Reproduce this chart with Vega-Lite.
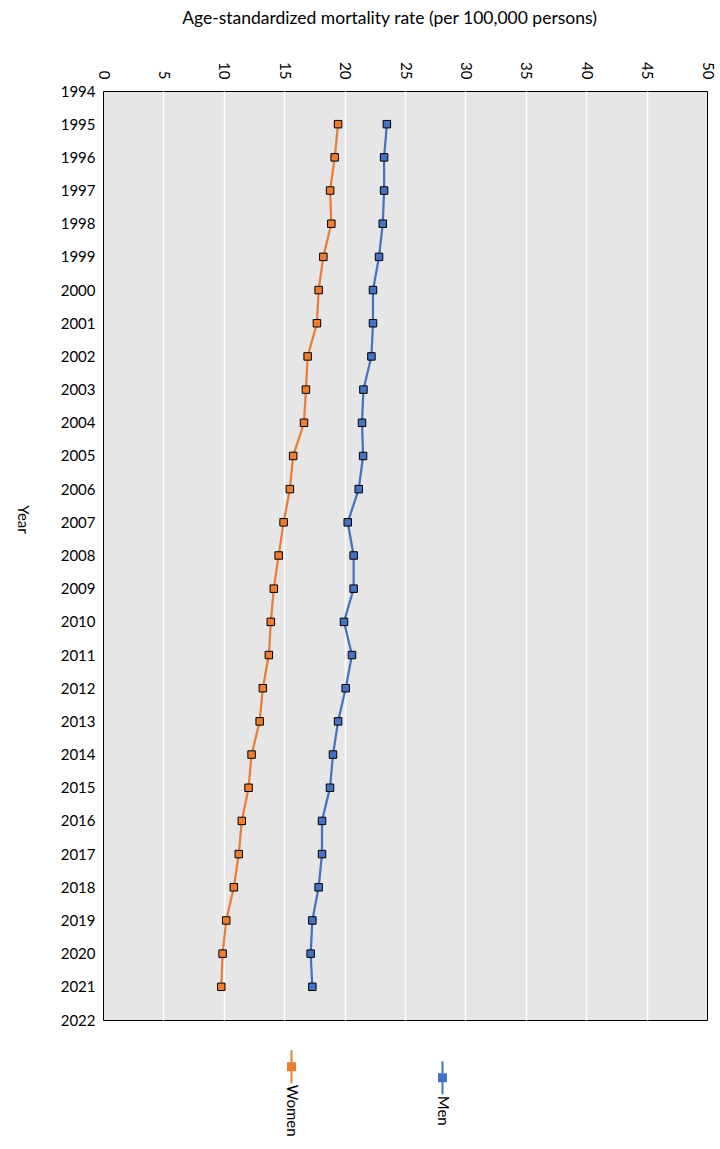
{
  "$schema": "https://vega.github.io/schema/vega-lite/v6.json",
  "width": 604,
  "height": 929,
  "autosize": "none",
  "padding": {"left": 103, "top": 91, "right": 13, "bottom": 129},
  "background": "white",
  "config": {
    "font": "Lato",
    "view": {"fill": "#e6e6e6", "stroke": "black", "strokeWidth": 1}
  },
  "data": {
    "values": [
      {"year": 1995, "series": "Women", "rate": 19.46},
      {"year": 1996, "series": "Women", "rate": 19.18},
      {"year": 1997, "series": "Women", "rate": 18.8},
      {"year": 1998, "series": "Women", "rate": 18.9},
      {"year": 1999, "series": "Women", "rate": 18.24},
      {"year": 2000, "series": "Women", "rate": 17.85},
      {"year": 2001, "series": "Women", "rate": 17.71},
      {"year": 2002, "series": "Women", "rate": 16.94},
      {"year": 2003, "series": "Women", "rate": 16.8},
      {"year": 2004, "series": "Women", "rate": 16.64},
      {"year": 2005, "series": "Women", "rate": 15.74},
      {"year": 2006, "series": "Women", "rate": 15.47},
      {"year": 2007, "series": "Women", "rate": 14.95},
      {"year": 2008, "series": "Women", "rate": 14.54},
      {"year": 2009, "series": "Women", "rate": 14.14},
      {"year": 2010, "series": "Women", "rate": 13.89},
      {"year": 2011, "series": "Women", "rate": 13.73},
      {"year": 2012, "series": "Women", "rate": 13.23},
      {"year": 2013, "series": "Women", "rate": 12.97},
      {"year": 2014, "series": "Women", "rate": 12.3},
      {"year": 2015, "series": "Women", "rate": 12.05},
      {"year": 2016, "series": "Women", "rate": 11.49},
      {"year": 2017, "series": "Women", "rate": 11.24},
      {"year": 2018, "series": "Women", "rate": 10.83},
      {"year": 2019, "series": "Women", "rate": 10.2},
      {"year": 2020, "series": "Women", "rate": 9.9},
      {"year": 2021, "series": "Women", "rate": 9.79},
      {"year": 1995, "series": "Men", "rate": 23.5},
      {"year": 1996, "series": "Men", "rate": 23.27},
      {"year": 1997, "series": "Men", "rate": 23.27},
      {"year": 1998, "series": "Men", "rate": 23.16},
      {"year": 1999, "series": "Men", "rate": 22.85},
      {"year": 2000, "series": "Men", "rate": 22.35},
      {"year": 2001, "series": "Men", "rate": 22.35},
      {"year": 2002, "series": "Men", "rate": 22.22},
      {"year": 2003, "series": "Men", "rate": 21.56},
      {"year": 2004, "series": "Men", "rate": 21.44},
      {"year": 2005, "series": "Men", "rate": 21.53},
      {"year": 2006, "series": "Men", "rate": 21.17},
      {"year": 2007, "series": "Men", "rate": 20.26},
      {"year": 2008, "series": "Men", "rate": 20.75},
      {"year": 2009, "series": "Men", "rate": 20.75},
      {"year": 2010, "series": "Men", "rate": 19.95},
      {"year": 2011, "series": "Men", "rate": 20.61},
      {"year": 2012, "series": "Men", "rate": 20.09},
      {"year": 2013, "series": "Men", "rate": 19.46},
      {"year": 2014, "series": "Men", "rate": 19.04},
      {"year": 2015, "series": "Men", "rate": 18.79},
      {"year": 2016, "series": "Men", "rate": 18.13},
      {"year": 2017, "series": "Men", "rate": 18.13},
      {"year": 2018, "series": "Men", "rate": 17.85},
      {"year": 2019, "series": "Men", "rate": 17.33},
      {"year": 2020, "series": "Men", "rate": 17.19},
      {"year": 2021, "series": "Men", "rate": 17.33}
    ]
  },
  "encoding": {
    "x": {
      "field": "rate",
      "type": "quantitative",
      "scale": {"domain": [0, 50], "nice": false, "zero": true},
      "axis": {
        "orient": "top",
        "title": "Age-standardized mortality rate (per 100,000 persons)",
        "values": [0, 5, 10, 15, 20, 25, 30, 35, 40, 45, 50],
        "labelAngle": 90,
        "labelAlign": "right",
        "labelBaseline": "middle",
        "labelPadding": 12,
        "labelFontSize": 15,
        "labelColor": "#000000",
        "ticks": false,
        "domain": false,
        "grid": true,
        "gridColor": {"condition": {"test": "datum.value == 0 || datum.value == 50", "value": "transparent"}, "value": "#ffffff"},
        "gridWidth": 1.5,
        "gridOpacity": 1,
        "titleFontSize": 17.5,
        "titleFontWeight": "normal",
        "titleColor": "#000000",
        "titleAlign": "center",
        "titleX": 286,
        "titlePadding": 34
      }
    },
    "y": {
      "field": "year",
      "type": "quantitative",
      "scale": {"domain": [1994, 2022], "nice": false, "zero": false, "reverse": true},
      "axis": {
        "values": [1994, 1995, 1996, 1997, 1998, 1999, 2000, 2001, 2002, 2003, 2004, 2005, 2006, 2007, 2008, 2009, 2010, 2011, 2012, 2013, 2014, 2015, 2016, 2017, 2018, 2019, 2020, 2021, 2022],
        "format": "d",
        "ticks": false,
        "domain": false,
        "grid": false,
        "labelFontSize": 15,
        "labelColor": "#000000",
        "labelPadding": 8,
        "labelOverlap": false,
        "title": "Year",
        "titleAngle": 90,
        "titleAlign": "center",
        "titleBaseline": "middle",
        "titleFontSize": 15,
        "titleFontWeight": "normal",
        "titleColor": "#000000",
        "titleX": -81,
        "titleY": 428
      }
    },
    "color": {
      "field": "series",
      "type": "nominal",
      "scale": {"domain": ["Women", "Men"], "range": ["#ED7D31", "#4472C4"]},
      "legend": {
        "title": null,
        "orient": "none",
        "direction": "horizontal",
        "legendX": 181,
        "legendY": 968,
        "padding": 0,
        "columnPadding": 135,
        "symbolType": "M0,-4.72V-1.1M0,1.1V4.72M-1,-1H1V1H-1Z",
        "symbolSize": 49,
        "symbolStrokeWidth": 2,
        "labelFontSize": 15,
        "labelColor": "#000000",
        "labelOffset": -3.5,
        "labelExpr": "datum.label == 'Men' ? 'Men      ' : datum.label",
        "encode": {
          "symbols": {
            "update": {
              "fill": {"scale": "color", "field": "value"},
              "stroke": {"scale": "color", "field": "value"},
              "opacity": {"value": 1}
            }
          },
          "labels": {
            "update": {
              "angle": {"value": 90},
              "align": {"value": "left"},
              "baseline": {"value": "middle"},
              "dx": {"value": 18},
              "dy": {"value": 4}
            }
          }
        }
      }
    }
  },
  "layer": [
    {
      "mark": {"type": "line", "strokeWidth": 2.25},
      "encoding": {"order": {"field": "year"}}
    },
    {
      "mark": {"type": "point", "shape": "square", "filled": true, "size": 56, "stroke": "black", "strokeWidth": 1, "opacity": 1}
    }
  ]
}
